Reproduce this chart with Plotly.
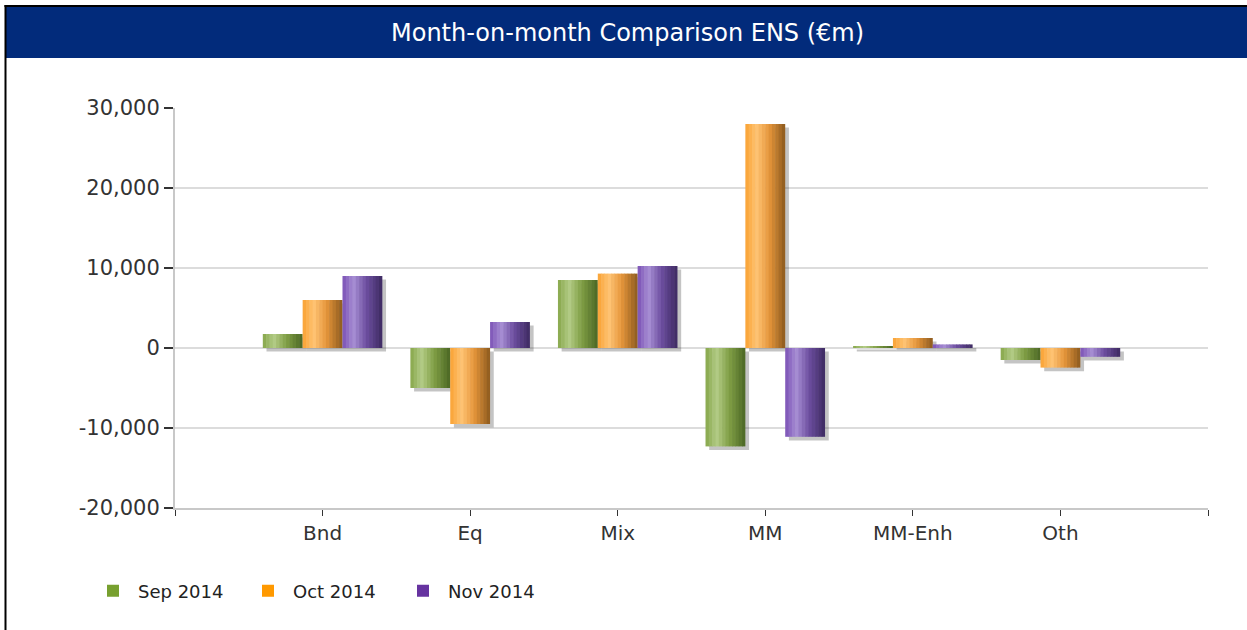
import numpy as np
import plotly.graph_objects as go

# ---- data ----
categories = ["Bnd", "Eq", "Mix", "MM", "MM-Enh", "Oth"]
series_names = ["Sep 2014", "Oct 2014", "Nov 2014"]
sep_2014 = [1750, -5000, 8500, -12300, 250, -1500]
oct_2014 = [6000, -9500, 9300, 28000, 1250, -2450]
nov_2014 = [9000, 3250, 10250, -11100, 450, -1100]
y_tick_values = [-20000, -10000, 0, 10000, 20000, 30000]
y_tick_labels = ["-20,000", "-10,000", "0", "10,000", "20,000", "30,000"]

series_values = [sep_2014, oct_2014, nov_2014]
legend_colors = ["#77a02f", "#ff9900", "#6633a0"]
gradient_stops = [
    ["#86a64a", "#b3cc86", "#7f9e44", "#4a6624"],
    ["#f9a233", "#ffc474", "#e5953a", "#8c5a1e"],
    ["#7c52b6", "#a78ed4", "#6c4d9f", "#3d2a60"],
]
stop_pos = [0.0, 0.28, 0.6, 1.0]

def hex2rgb(h):
    h = h.lstrip("#")
    return np.array([int(h[i:i + 2], 16) for i in (0, 2, 4)], dtype=float)

def interp_color(stops, t):
    rgbs = [hex2rgb(s) for s in stops]
    for i in range(len(stop_pos) - 1):
        if stop_pos[i] <= t <= stop_pos[i + 1]:
            f = (t - stop_pos[i]) / (stop_pos[i + 1] - stop_pos[i])
            c = rgbs[i] * (1 - f) + rgbs[i + 1] * f
            return "rgb(%d,%d,%d)" % tuple(np.round(c))
    c = rgbs[-1]
    return "rgb(%d,%d,%d)" % tuple(np.round(c))

x_pos = list(range(1, len(categories) + 1))
bar_w = 0.27
group_left = -1.5 * bar_w
n_strips = 12
strip_w = bar_w / n_strips

fig = go.Figure()

# shadows
for s, vals in enumerate(series_values):
    shadow_base = [min(0, v) - 450 for v in vals]
    shadow_h = [abs(v) for v in vals]
    fig.add_trace(go.Bar(
        x=x_pos, y=shadow_h, base=shadow_base,
        offset=group_left + s * bar_w + 0.025, width=bar_w,
        marker=dict(color="rgba(60,60,60,0.3)", line=dict(width=0)),
        showlegend=False, hoverinfo="skip"))

# gradient bars
for s, vals in enumerate(series_values):
    for k in range(n_strips):
        t = (k + 0.5) / n_strips
        fig.add_trace(go.Bar(
            x=x_pos, y=vals,
            offset=group_left + s * bar_w + k * strip_w,
            width=strip_w * 1.15 if k < n_strips - 1 else strip_w,
            marker=dict(color=interp_color(gradient_stops[s], t), line=dict(width=0)),
            showlegend=False, name=series_names[s]))

# legend entries
for s, name in enumerate(series_names):
    fig.add_trace(go.Bar(x=[None], y=[None], name=name,
                         marker=dict(color=legend_colors[s], line=dict(width=0))))

W, H = 1247, 630
ml, mt = 175, 108
pw = 1208 - 175
ph = 508 - 108
mr = W - ml - pw
mb = H - mt - ph

def px_x(p):
    return (p - ml) / pw

def px_y(p):
    return 1 - (p - mt) / ph

shapes = [
    dict(type="rect", xref="paper", yref="paper",
         x0=px_x(6), x1=px_x(1260), y0=px_y(58), y1=px_y(6),
         fillcolor="#022b7b", line=dict(width=0), layer="below"),
    dict(type="line", xref="paper", yref="paper",
         x0=px_x(4.5), x1=px_x(1260), y0=px_y(6), y1=px_y(6),
         line=dict(color="#000000", width=2)),
    dict(type="line", xref="paper", yref="paper",
         x0=px_x(5.5), x1=px_x(5.5), y0=px_y(5), y1=px_y(640),
         line=dict(color="#000000", width=2)),
]

fig.update_layout(
    width=W, height=H,
    margin=dict(l=ml, r=mr, t=mt, b=mb, pad=0),
    paper_bgcolor="white", plot_bgcolor="white",
    barmode="overlay",
    font=dict(family="DejaVu Sans, Verdana, sans-serif", size=16, color="#333333"),
    shapes=shapes,
    annotations=[dict(text="Month-on-month Comparison ENS (€m)", xref="paper", yref="paper",
                      x=px_x(627), y=px_y(33), xanchor="center", yanchor="middle",
                      showarrow=False,
                      font=dict(family="DejaVu Sans, Verdana, sans-serif", size=24, color="white"))],
    xaxis=dict(range=[0, 7], tickvals=list(range(0, 8)),
               ticktext=[""] + categories + [""],
               showgrid=False, zeroline=False,
               showline=True, linecolor="#c8c8c8", linewidth=2,
               ticks="outside", ticklen=6, tickwidth=1, tickcolor="#333333",
               tickfont=dict(size=20, color="#333333")),
    yaxis=dict(range=[-20000, 30000], tickvals=y_tick_values, ticktext=y_tick_labels,
               showgrid=True, gridcolor="#dcdcdc", gridwidth=2, zeroline=False,
               showline=True, linecolor="#c8c8c8", linewidth=2,
               ticks="outside", ticklen=9, tickwidth=2, tickcolor="#333333",
               tickfont=dict(size=21, color="#333333")),
    legend=dict(orientation="h", x=px_x(88), y=px_y(591), xanchor="left", yanchor="middle",
                font=dict(size=18, color="#222222"), itemwidth=40, traceorder="normal",
                entrywidth=100, entrywidthmode="pixels"),
    hovermode=False,
)

fig.write_html("out.html",
               config={"displayModeBar": False, "staticPlot": True},
               post_script="document.body.style.margin='0';document.body.style.overflow='hidden';")
